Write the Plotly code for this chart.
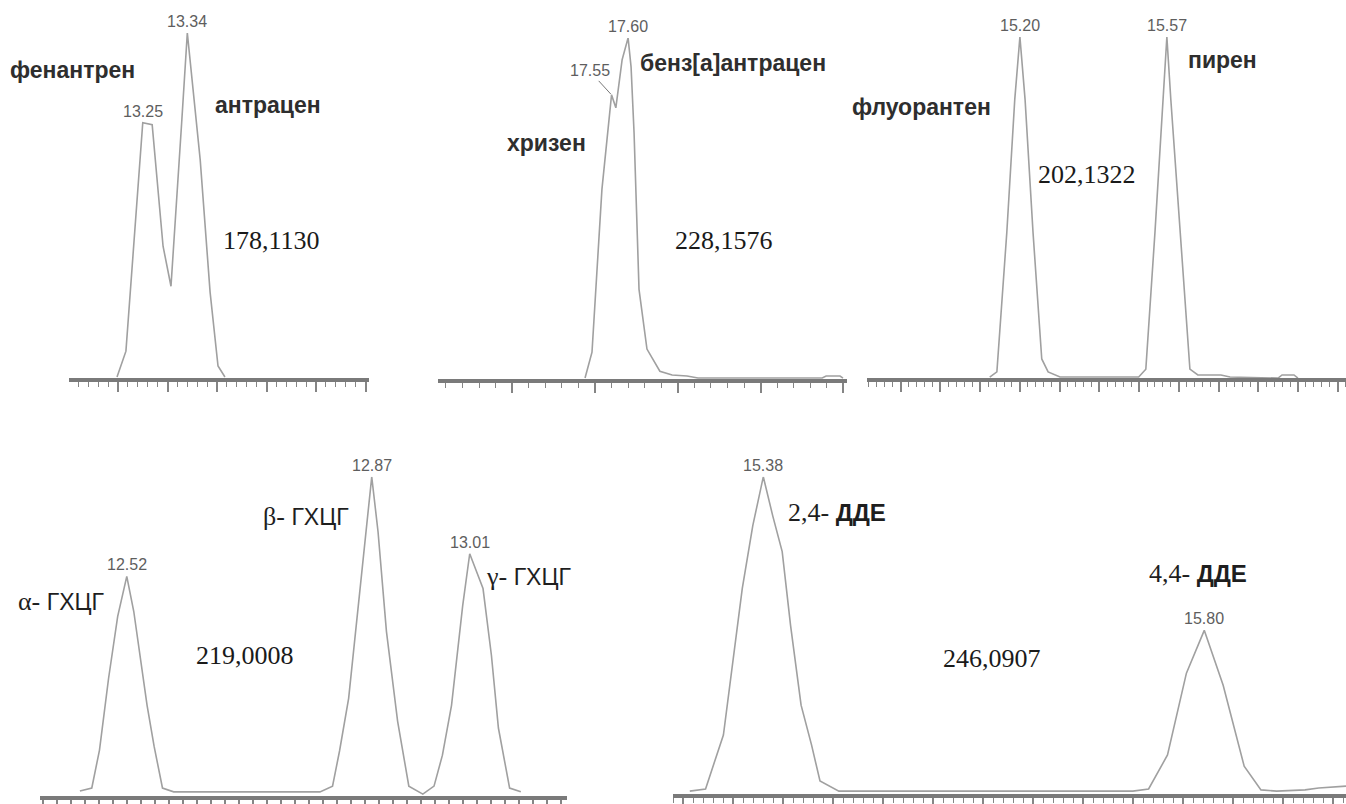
import plotly.graph_objects as go

W, H = 1346, 804

# ---------------- data (retention time, min ; relative intensity, %) ----------------
# Panel 1: m/z 178,1130  (фенантрен / антрацен)
p1_time = [13.198, 13.216, 13.25, 13.269, 13.291, 13.307, 13.329, 13.34, 13.366, 13.386, 13.402, 13.416]
p1_int = [0.3, 7.8, 74.0, 73.4, 38.2, 26.6, 74.9, 100, 63.3, 24.9, 3.5, 0.3]
p1_peaks = [13.25, 13.34]

# Panel 2: m/z 228,1576  (хризен / бенз[а]антрацен)
p2_time = [17.470, 17.491, 17.521, 17.55, 17.563, 17.582, 17.60, 17.609, 17.618, 17.633, 17.657,
           17.696, 17.733, 17.778, 17.811, 18.186, 18.198, 18.240, 18.249]
p2_int = [0.3, 7.9, 55.6, 83.3, 79.5, 93.6, 100, 91.5, 72.2, 26.3, 8.8,
          2.3, 1.2, 0.9, 0.3, 0.3, 0.9, 0.9, 0.3]
p2_peaks = [17.55, 17.60]

# Panel 3: m/z 202,1322  (флуорантен / пирен)
p3_time = [15.124, 15.142, 15.167, 15.187, 15.20, 15.213, 15.233, 15.255, 15.271, 15.301,
           15.499, 15.517, 15.540, 15.560, 15.57, 15.580, 15.603, 15.628, 15.648, 15.706, 15.729,
           15.850, 15.860, 15.890, 15.900]
p3_int = [0.3, 1.8, 42.7, 81.6, 100, 81.6, 42.7, 5.6, 1.8, 0.3,
          0.3, 2.6, 42.7, 81.6, 100, 81.6, 42.7, 2.6, 0.9, 0.9, 0.3,
          0.0, 0.9, 0.9, 0.0]
p3_peaks = [15.20, 15.57]

# Panel 4: m/z 219,0008  (α-, β-, γ-ГХЦГ)
p4_time = [12.453, 12.470, 12.481, 12.494, 12.507, 12.52, 12.530, 12.549, 12.559, 12.571, 12.587,
           12.796, 12.814, 12.824, 12.837, 12.853, 12.87, 12.879, 12.891, 12.907, 12.923, 12.943,
           12.959, 12.971, 12.984, 13.000, 13.01, 13.029, 13.041, 13.051, 13.067, 13.083]
p4_int = [1.6, 2.5, 14.4, 36.9, 56.3, 68.8, 57.8, 28.4, 15.6, 2.5, 1.3,
          1.3, 3.1, 14.1, 30.6, 65.0, 100, 82.8, 51.6, 23.4, 3.1, 0.6,
          3.1, 12.8, 28.4, 59.7, 75.9, 65.0, 44.1, 21.3, 2.5, 1.3]
p4_peaks = [12.52, 12.87, 13.01]

# Panel 5: m/z 246,0907  (2,4-ДДЕ / 4,4-ДДЕ)
p5_time = [15.310, 15.325, 15.342, 15.350, 15.360, 15.370, 15.38, 15.389, 15.398, 15.406, 15.416,
           15.426, 15.434, 15.452, 15.732, 15.747, 15.765, 15.783, 15.80, 15.818, 15.838, 15.854,
           15.869, 15.896, 15.909, 15.935]
p5_int = [0.9, 1.6, 18.6, 38.7, 64.8, 84.6, 100, 87.7, 76.4, 53.1, 28.0,
          15.4, 4.1, 0.9, 0.9, 1.6, 12.3, 38.1, 51.6, 34.3, 8.8, 1.3,
          0.9, 1.3, 1.9, 2.5]
p5_peaks = [15.38, 15.80]

mz_labels = ["178,1130", "228,1576", "202,1322", "219,0008", "246,0907"]

# ---------------- styles ----------------
CURVE = "#a0a0a0"
AXIS = "#7a7a7a"
TICK = "#858585"
PEAKFONT = dict(family="Liberation Sans, Arial", size=16, color="#5e5e5e")
NAMEFONT = dict(family="Liberation Sans, Arial", size=23, color="#2e2e2e")
NUMFONT = dict(family="Liberation Serif, Times New Roman", size=26, color="#1a1a1a")

def px2paper(x, y):
    return x / W, 1 - y / H

# panel geometry in pixels: (x_left, x_right, y_top(100%), y_base(0%))
geom = [
    (69, 369, 33, 379),
    (438, 847, 38, 380),
    (867, 1346, 37, 379),
    (40, 567, 478, 798),
    (673, 1346, 478, 796),
]
xranges = [(13.101, 13.707), (17.026, 18.261), (14.815, 16.021), (12.396, 13.149), (15.294, 15.935)]
# (tick0, major dtick, major len, minor dtick or None)
tickcfg = [
    (13.2, 0.1, 10, 0.02),
    (17.25, 0.25, 10, 0.05),
    (15.2, 0.1, 10, 0.02),
    (12.4, 0.02, 6, None),
    (15.399, 50 / 1050, 10, 10 / 1050),
]

series = [(p1_time, p1_int, p1_peaks), (p2_time, p2_int, p2_peaks), (p3_time, p3_int, p3_peaks),
          (p4_time, p4_int, p4_peaks), (p5_time, p5_int, p5_peaks)]

fig = go.Figure()
layout = dict(width=W, height=H, margin=dict(l=0, r=0, t=0, b=0), paper_bgcolor="white",
              plot_bgcolor="rgba(0,0,0,0)", showlegend=False, autosize=False)
annotations = []

for i, ((t, v, peaks), g, xr, tc) in enumerate(zip(series, geom, xranges, tickcfg)):
    n = "" if i == 0 else str(i + 1)
    fig.add_trace(go.Scatter(x=t, y=v, mode="lines", line=dict(color=CURVE, width=1.6),
                             xaxis="x" + n, yaxis="y" + n, cliponaxis=False, hoverinfo="skip"))
    xl, xrr, yt, yb = g
    xa = dict(domain=[xl / W, xrr / W], range=list(xr), anchor="y" + n,
              showline=True, linewidth=3.5, linecolor=AXIS, mirror=False,
              ticks="outside", tickmode="linear", tick0=tc[0], dtick=tc[1], ticklen=tc[2],
              tickwidth=1.6, tickcolor=TICK, showticklabels=False,
              showgrid=False, zeroline=False, fixedrange=True)
    if tc[3] is not None:
        xa["minor"] = dict(ticks="outside", tick0=tc[0], dtick=tc[3], ticklen=5,
                           tickwidth=1.4, tickcolor=TICK, showgrid=False)
    ya = dict(domain=[1 - yb / H, 1 - yt / H], range=[0, 100], visible=False,
              showgrid=False, zeroline=False, fixedrange=True, anchor="x" + n)
    layout["xaxis" + n] = xa
    layout["yaxis" + n] = ya
    # peak retention-time labels
    for p in peaks:
        j = min(range(len(t)), key=lambda k: abs(t[k] - p))
        if abs(p - 17.55) < 1e-9:
            annotations.append(dict(x=p, y=v[j], xref="x" + n, yref="y" + n, text=f"{p:.2f}",
                                    showarrow=True, arrowhead=0, arrowwidth=1, arrowcolor="#777",
                                    ax=-22, ay=-24, font=PEAKFONT, standoff=1))
        else:
            annotations.append(dict(x=p, y=v[j], xref="x" + n, yref="y" + n, text=f"{p:.2f}",
                                    showarrow=False, yanchor="bottom", yshift=1, font=PEAKFONT))

# compound names and m/z labels (pixel placement: left edge, vertical centre)
names = [
    ("фенантрен", 8, 70, NAMEFONT),
    ("антрацен", 213, 105, NAMEFONT),
    ("хризен", 505, 143, NAMEFONT),
    ("бенз[а]антрацен", 638, 63, NAMEFONT),
    ("флуорантен", 850, 107, NAMEFONT),
    ("пирен", 1186, 60, NAMEFONT),
]
for txt, x, y, f in names:
    px, py = px2paper(x, y)
    annotations.append(dict(x=px, y=py, xref="paper", yref="paper", text="<b>" + txt + "</b>",
                            showarrow=False, xanchor="left", yanchor="middle", font=f))

SANS = "font-family:'Liberation Sans', Arial;"
bottom_names = [
    ("α- <span style=\"" + SANS + "font-size:23px\">ГХЦГ</span>", 16, 603),
    ("β- <span style=\"" + SANS + "font-size:23px\">ГХЦГ</span>", 261, 518),
    ("γ- <span style=\"" + SANS + "font-size:23px\">ГХЦГ</span>", 484, 578),
    ("2,4- <span style=\"" + SANS + "font-size:24px;font-weight:bold\">ДДЕ</span>", 786, 514),
    ("4,4- <span style=\"" + SANS + "font-size:24px;font-weight:bold\">ДДЕ</span>", 1147, 575),
]
for txt, x, y in bottom_names:
    px, py = px2paper(x, y)
    annotations.append(dict(x=px, y=py, xref="paper", yref="paper", text=txt, showarrow=False,
                            xanchor="left", yanchor="middle",
                            font=dict(family="Liberation Serif, Times New Roman", size=26, color="#1e1e1e")))

mz_pos = [(221, 241), (673, 241), (1036, 175), (194, 657), (941, 660)]
for txt, (x, y) in zip(mz_labels, mz_pos):
    px, py = px2paper(x, y)
    annotations.append(dict(x=px, y=py, xref="paper", yref="paper", text=txt, showarrow=False,
                            xanchor="left", yanchor="middle", font=NUMFONT))

layout["annotations"] = annotations
fig.update_layout(**layout)
fig.write_html("out.html")
